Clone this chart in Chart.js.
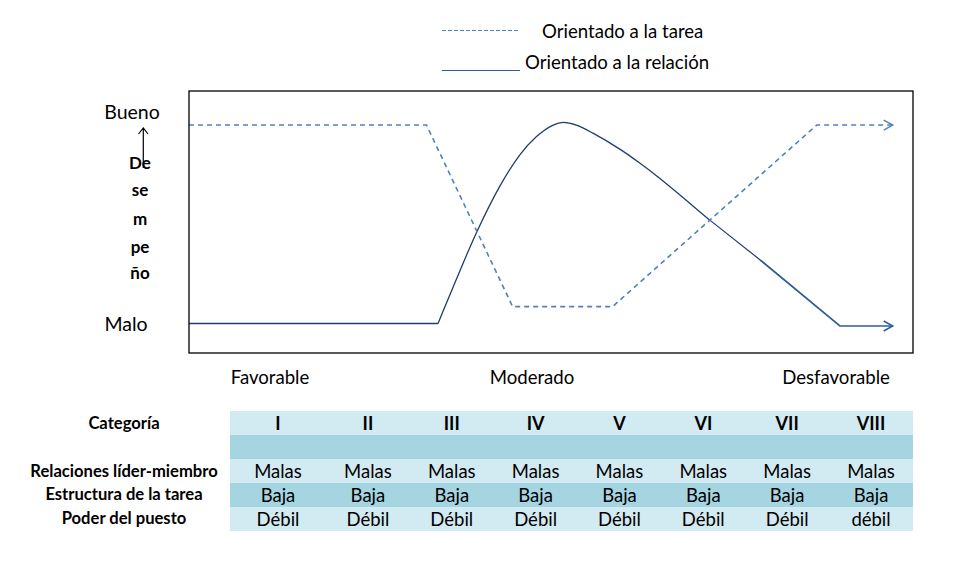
<!DOCTYPE html>
<html lang="es">
<head>
<meta charset="utf-8">
<script src="https://cdn.jsdelivr.net/npm/chart.js@4"></script>
<style>
  html, body { margin:0; padding:0; background:#fff; }
  body { width:972px; height:568px; position:relative; overflow:hidden; font-family: Lato, "Open Sans", sans-serif; color:#000; }
  .t { position:absolute; white-space:nowrap; transform:translate(-50%,-50%); line-height:1; }
  .l { position:absolute; white-space:nowrap; transform:translateY(-50%); line-height:1; }
  #chartBox { position:absolute; left:187px; top:89px; width:728px; height:266px; }
  table { position:absolute; left:230px; top:411px; border-collapse:collapse; table-layout:fixed; width:683px; }
  td { height:24px; padding:0; text-align:center; font-size:18.5px; line-height:24px; }
  tr.c td { background:#D2EAF1; }
  tr.d td { background:#A6D5E2; }
  tr.h td { font-weight:bold; font-size:18px; }
  .rl { font-weight:bold; font-size:16.6px; }
  .vy { font-weight:bold; font-size:17px; }
  .big { font-size:19.5px; }
  .lab { font-size:18.6px; }
</style>
</head>
<body>
<!-- leyenda -->
<div style="position:absolute;left:442px;top:30px;width:77px;height:1.3px;background:repeating-linear-gradient(90deg,#4F81BD 0 4px,transparent 4px 6px);"></div>
<div class="l lab" style="left:542px;top:31px;">Orientado a la tarea</div>
<div style="position:absolute;left:442px;top:70px;width:78px;height:1.4px;background:#2E5C9A;"></div>
<div class="l lab" style="left:525px;top:62px;">Orientado a la relación</div>

<!-- eje vertical -->
<div class="t big" style="left:132px;top:112px;">Bueno</div>
<svg style="position:absolute;left:136px;top:126px;" width="14" height="44">
  <path d="M7.3 2 L7.3 42 M2.5 8 L7.3 2 L12 8" stroke="#000" stroke-width="1.2" fill="none"/>
</svg>
<div class="t vy" style="left:140px;top:162px;">De</div>
<div class="t vy" style="left:140px;top:189px;">se</div>
<div class="t vy" style="left:140px;top:218px;">m</div>
<div class="t vy" style="left:140px;top:246px;">pe</div>
<div class="t vy" style="left:140px;top:272px;">ño</div>
<div class="t big" style="left:126px;top:324px;">Malo</div>

<div id="chartBox"><canvas id="c"></canvas></div>

<!-- eje horizontal -->
<div class="t lab" style="left:270px;top:377px;">Favorable</div>
<div class="t lab" style="left:532px;top:377px;">Moderado</div>
<div class="t lab" style="left:836px;top:377px;">Desfavorable</div>

<!-- etiquetas de la tabla -->
<div class="t rl" style="left:124px;top:423px;">Categoría</div>
<div class="t rl" style="left:124px;top:471px;">Relaciones líder-miembro</div>
<div class="t rl" style="left:124px;top:494px;">Estructura de la tarea</div>
<div class="t rl" style="left:124px;top:518px;">Poder del puesto</div>
<table id="tabla"></table>

<script>
// ---- datos ----
const categorias = ["I", "II", "III", "IV", "V", "VI", "VII", "VIII"];
const relacionesLider = ["Malas", "Malas", "Malas", "Malas", "Malas", "Malas", "Malas", "Malas"];
const estructuraTarea = ["Baja", "Baja", "Baja", "Baja", "Baja", "Baja", "Baja", "Baja"];
const poderPuesto = ["Débil", "Débil", "Débil", "Débil", "Débil", "Débil", "Débil", "débil"];

// Orientado a la tarea (línea discontinua)
const tareaX = [0, 32.8, 44.7, 58.5, 86.7, 97.2];
const tareaY = [87, 87, 17.7, 17.7, 87, 87];

// Orientado a la relación (línea continua)
const relacionX = [0, 34.4, 36.5, 39.7, 42.9, 45.7, 48.0, 50.3, 51.7, 53.5, 55.8, 59.5, 62.3, 65.0, 71.9, 78.9, 89.9, 97.2];
const relacionY = [11.3, 11.3, 25.3, 45.9, 63.5, 75.6, 82.6, 87.0, 88.0, 87.0, 83.9, 77.8, 72.4, 66.7, 50.8, 35.5, 10.3, 10.3];
const tramoCurvo = [1, 14]; // índices inicial y final del tramo suavizado

// ---- tabla ----
const tabla = document.getElementById('tabla');
const cg = document.createElement('colgroup');
categorias.forEach((_, i) => { const c = document.createElement('col'); c.style.width = (i === 0 ? 96 : 83.857) + 'px'; cg.appendChild(c); });
tabla.appendChild(cg);
[[categorias, 'c h'], [categorias.map(() => ''), 'd'], [relacionesLider, 'c'], [estructuraTarea, 'd'], [poderPuesto, 'c']].forEach(([vals, cls]) => {
  const tr = document.createElement('tr'); tr.className = cls;
  vals.forEach(v => { const td = document.createElement('td'); td.textContent = v; tr.appendChild(td); });
  tabla.appendChild(tr);
});

// ---- gráfico ----
const pts = (xs, ys, a = 0, b = xs.length - 1) => xs.slice(a, b + 1).map((x, i) => ({ x, y: ys[a + i] }));
const colTarea = '#4F81BD', colRel = '#1F3D6E', colFlecha = '#2E5C9A';

const arrowPlugin = {
  id: 'flechas',
  afterDatasetsDraw(chart) {
    const ctx = chart.ctx;
    chart.data.datasets.forEach((ds, i) => {
      if (!ds.flecha) return;
      const d = chart.getDatasetMeta(i).data;
      const p = d[d.length - 1];
      ctx.save();
      ctx.strokeStyle = ds.flechaColor || ds.borderColor;
      ctx.lineWidth = 1.5;
      ctx.setLineDash([]);
      ctx.beginPath();
      ctx.moveTo(p.x - 9, p.y - 5);
      ctx.lineTo(p.x, p.y);
      ctx.lineTo(p.x - 9, p.y + 5);
      ctx.stroke();
      ctx.restore();
    });
  },
  afterDraw(chart) {
    const a = chart.chartArea, ctx = chart.ctx;
    ctx.save();
    ctx.strokeStyle = '#000';
    ctx.lineWidth = 1.3;
    ctx.strokeRect(a.left, a.top, a.right - a.left, a.bottom - a.top);
    ctx.restore();
  }
};

new Chart(document.getElementById('c'), {
  type: 'line',
  data: {
    datasets: [
      { label: 'Orientado a la tarea', data: pts(tareaX, tareaY), borderColor: colTarea, borderWidth: 1.6, borderDash: [5, 4], tension: 0, flecha: true },
      { label: 'Orientado a la relación', data: pts(relacionX, relacionY, 0, tramoCurvo[0]), borderColor: colRel, borderWidth: 1.5, tension: 0 },
      { label: 'Orientado a la relación (curva)', data: pts(relacionX, relacionY, tramoCurvo[0], tramoCurvo[1]), borderColor: colRel, borderWidth: 1.3, cubicInterpolationMode: 'monotone' },
      { label: 'Orientado a la relación (final)', data: pts(relacionX, relacionY, tramoCurvo[1]), borderColor: colRel, borderWidth: 1.2, tension: 0, segment: { borderColor: c => c.p0DataIndex >= 1 ? colFlecha : colRel, borderWidth: c => c.p0DataIndex >= 1 ? 1.7 : 1.2 }, flecha: true, flechaColor: colFlecha }
    ]
  },
  options: {
    responsive: true,
    maintainAspectRatio: false,
    animation: false,
    layout: { padding: 2 },
    elements: { point: { radius: 0, hoverRadius: 0 } },
    plugins: { legend: { display: false }, tooltip: { enabled: false } },
    scales: {
      x: { type: 'linear', min: 0, max: 100, display: false },
      y: { type: 'linear', min: 0, max: 100, display: false }
    }
  },
  plugins: [arrowPlugin]
});
</script>
</body>
</html>
